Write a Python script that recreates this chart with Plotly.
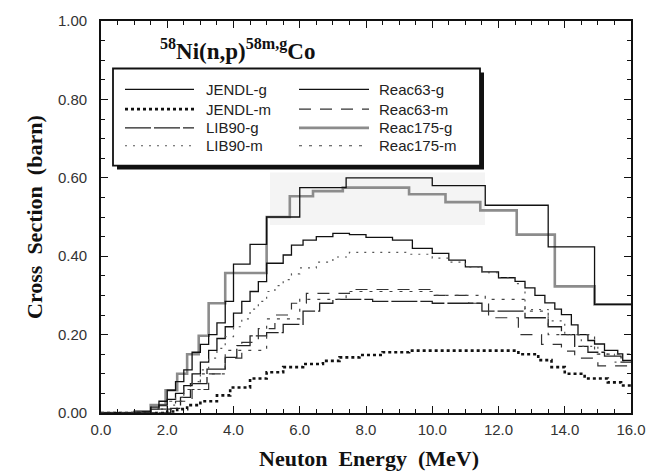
import plotly.graph_objects as go

# ---------------- data (step histograms: bin edges + bin values, barn) ----------------
jendl_g_edges = [0, 1.25, 1.5, 1.75, 2.0, 2.25, 2.5, 2.75, 3.0, 3.25, 3.5, 3.75, 4.0, 4.25, 4.5, 4.75,
                 5.0, 5.5, 5.75, 6.1, 6.5, 7.0, 7.5, 8.0, 8.8, 9.4, 10.0, 10.5, 11.0, 11.5, 12.0, 12.5,
                 12.8, 13.1, 13.4, 13.7, 13.9, 14.2, 14.4, 14.7, 14.9, 15.2, 15.6, 15.75, 16]
jendl_g_vals = [0, 0.003, 0.01, 0.02, 0.035, 0.05, 0.07, 0.1, 0.13, 0.16, 0.19, 0.22, 0.255, 0.285, 0.31,
                0.335, 0.382, 0.403, 0.428, 0.441, 0.45, 0.458, 0.455, 0.448, 0.441, 0.42, 0.407, 0.39,
                0.373, 0.36, 0.345, 0.336, 0.319, 0.3, 0.281, 0.265, 0.251, 0.225, 0.2, 0.185, 0.176,
                0.16, 0.151, 0.134]

jendl_m_edges = [0, 2.0, 2.3, 2.6, 3.0, 3.5, 3.9, 4.5, 5.0, 5.5, 6.1, 6.7, 7.2, 7.8, 8.5, 9.3, 12.6,
                 13.2, 13.6, 14.0, 14.6, 15.3, 15.7, 16]
jendl_m_vals = [0, 0.004, 0.01, 0.02, 0.03, 0.045, 0.065, 0.088, 0.104, 0.117, 0.125, 0.133, 0.142,
                0.148, 0.155, 0.159, 0.15, 0.135, 0.117, 0.1, 0.088, 0.078, 0.07]

lib90_g_edges = [0, 2.1, 2.4, 2.7, 3.2, 3.75, 4.1, 4.5, 5.0, 5.5, 6.1, 6.6, 7.0, 8.2, 10.0, 11.5, 12.8,
                 13.5, 13.9, 14.3, 14.7, 15.2, 15.7, 16]
lib90_g_vals = [0, 0.012, 0.04, 0.075, 0.112, 0.142, 0.172, 0.197, 0.205, 0.226, 0.26, 0.28, 0.29, 0.285,
                0.28, 0.26, 0.243, 0.22, 0.2, 0.17, 0.155, 0.145, 0.13]

lib90_m_edges = [0, 1.75, 2.0, 2.25, 2.5, 2.75, 3.0, 3.25, 3.5, 3.75, 4.0, 4.25, 4.5, 4.75, 5.0, 5.25,
                 5.5, 5.75, 6.0, 6.5, 7.0, 7.5, 9.2, 10.0, 10.5, 11.0, 11.5, 12.0, 12.5, 12.8, 13.5,
                 14.0, 14.5, 15.0, 15.5, 16.0]
lib90_m_vals = [0, 0.01, 0.02, 0.04, 0.06, 0.08, 0.11, 0.14, 0.165, 0.195, 0.22, 0.24, 0.265, 0.285,
                0.31, 0.325, 0.34, 0.355, 0.37, 0.385, 0.398, 0.41, 0.405, 0.395, 0.385, 0.372, 0.358,
                0.345, 0.33, 0.264, 0.235, 0.2, 0.17, 0.15, 0.13]

reac63_g_edges = [0, 1.0, 1.5, 1.75, 2.0, 2.25, 2.5, 2.75, 3.0, 3.25, 3.5, 3.75, 4.0, 4.5, 5.0, 6.0,
                  7.4, 10.0, 11.6, 13.5, 14.9, 16]
reac63_g_vals = [0, 0.005, 0.015, 0.03, 0.058, 0.08, 0.11, 0.155, 0.175, 0.2, 0.23, 0.285, 0.38, 0.43,
                 0.5, 0.575, 0.60, 0.58, 0.53, 0.424, 0.277]

reac63_m_edges = [0, 1.75, 2.25, 2.75, 3.25, 3.75, 4.25, 4.75, 5.25, 5.75, 6.2, 7.5, 10.0, 11.1, 11.7,
                  12.6, 13.3, 13.9, 14.3, 15.0, 16]
reac63_m_vals = [0, 0.01, 0.03, 0.06, 0.1, 0.14, 0.18, 0.215, 0.25, 0.28, 0.305, 0.315, 0.30, 0.28,
                 0.243, 0.2, 0.175, 0.158, 0.14, 0.12]

reac175_g_edges = [0, 1.5, 1.95, 2.3, 2.6, 2.95, 3.25, 3.75, 5.0, 5.7, 6.4, 7.3, 9.3, 10.4, 11.45,
                   12.55, 13.7, 14.9, 16]
reac175_g_vals = [0, 0.02, 0.058, 0.1, 0.15, 0.197, 0.28, 0.357, 0.5, 0.553, 0.566, 0.575, 0.558,
                  0.538, 0.517, 0.455, 0.323, 0.277]

reac175_m_edges = [0, 1.5, 2.0, 2.5, 3.0, 3.75, 5.0, 6.0, 7.4, 10.0, 11.6, 12.8, 13.5, 14.9, 16]
reac175_m_vals = [0, 0.01, 0.03, 0.06, 0.1, 0.16, 0.24, 0.29, 0.31, 0.30, 0.29, 0.26, 0.2, 0.15]

x_tickvals = [0, 2, 4, 6, 8, 10, 12, 14, 16]
x_ticktext = ["0.0", "2.0", "4.0", "6.0", "8.0", "10.0", "12.0", "14.0", "16.0"]
y_tickvals = [0, 0.2, 0.4, 0.6, 0.8, 1.0]
y_ticktext = ["0.00", "0.20", "0.40", "0.60", "0.80", "1.00"]

# ---------------- styles ----------------
series = [
    # name, edges, vals, color, width, dash
    ("Reac175-g", reac175_g_edges, reac175_g_vals, "#8c8c8c", 2.6, "solid"),
    ("JENDL-g", jendl_g_edges, jendl_g_vals, "#111111", 1.3, "solid"),
    ("JENDL-m", jendl_m_edges, jendl_m_vals, "#111111", 2.6, "3px,3px"),
    ("LIB90-g", lib90_g_edges, lib90_g_vals, "#222222", 1.3, "26px,3px"),
    ("LIB90-m", lib90_m_edges, lib90_m_vals, "#555555", 1.2, "2px,6px"),
    ("Reac63-g", reac63_g_edges, reac63_g_vals, "#111111", 1.3, "solid"),
    ("Reac63-m", reac63_m_edges, reac63_m_vals, "#333333", 1.2, "12px,9px"),
    ("Reac175-m", reac175_m_edges, reac175_m_vals, "#444444", 1.2, "3px,7px"),
]
style = {s[0]: s[3:] for s in series}

# plot area in pixels
W, H = 671, 471
L, R, T, B = 101, 40, 17, 58
PW, PH = W - L - R, H - T - B
X0, X1, Y0, Y1 = 0, 16, 0, 1.0


def px2x(px):
    return X0 + (px - L) / PW * (X1 - X0)


def px2y(py):
    return Y0 + (T + PH - py) / PH * (Y1 - Y0)


fig = go.Figure()
for name, edges, vals, color, width, dash in series:
    assert len(edges) == len(vals) + 1, name
    fig.add_trace(go.Scatter(
        x=edges, y=list(vals) + [vals[-1]], mode="lines", line_shape="hv",
        line=dict(color=color, width=width, dash=dash), name=name, showlegend=False,
        hoverinfo="skip"))

shapes = []
# faint scan patch
shapes.append(dict(type="rect", xref="x", yref="y", x0=px2x(270), x1=px2x(485), y0=px2y(223),
                   y1=px2y(170), fillcolor="#f4f4f4", line=dict(width=0), layer="below"))
# legend shadow + box
shapes.append(dict(type="rect", xref="x", yref="y", x0=px2x(117), x1=px2x(484), y0=px2y(167),
                   y1=px2y(69), fillcolor="#111111", line=dict(width=0)))
shapes.append(dict(type="rect", xref="x", yref="y", x0=px2x(113), x1=px2x(480), y0=px2y(163),
                   y1=px2y(65), fillcolor="white", line=dict(color="#111111", width=1.8)))

annotations = []
legend_rows = [86, 106, 125, 143]
col1 = ["JENDL-g", "JENDL-m", "LIB90-g", "LIB90-m"]
col2 = ["Reac63-g", "Reac63-m", "Reac175-g", "Reac175-m"]
for names, lx0, lx1, tx in [(col1, 125, 194, 204), (col2, 299, 369, 377)]:
    for nm, ry in zip(names, legend_rows):
        color, width, dash = style[nm]
        shapes.append(dict(type="line", xref="x", yref="y", x0=px2x(lx0), x1=px2x(lx1),
                           y0=px2y(ry), y1=px2y(ry), line=dict(color=color, width=width, dash=dash)))
        annotations.append(dict(xref="x", yref="y", x=px2x(tx), y=px2y(ry), text=nm, showarrow=False,
                                xanchor="left", yanchor="middle",
                                font=dict(family="Liberation Sans", size=15, color="#222222")))

annotations.append(dict(xref="x", yref="y", x=px2x(158), y=px2y(46),
                        text="<b><sup>58</sup>Ni(n,p)<sup>58m,g</sup>Co</b>", showarrow=False,
                        xanchor="left", yanchor="middle",
                        font=dict(family="Liberation Serif", size=23, color="#111111")))
annotations.append(dict(xref="paper", yref="paper", x=(34 - L) / PW, y=0.5,
                        text="<b>Cross  Section  (barn)</b>",
                        textangle=-90, showarrow=False, xanchor="center", yanchor="middle",
                        font=dict(family="Liberation Serif", size=22, color="#111111")))
annotations.append(dict(xref="paper", yref="paper", x=(369 - L) / PW, y=-(459 - T - PH) / PH,
                        text="<b>Neuton  Energy  (MeV)</b>", showarrow=False, xanchor="center",
                        yanchor="middle", font=dict(family="Liberation Serif", size=22, color="#111111")))

axis_common = dict(showgrid=False, zeroline=False, showline=True, linecolor="#111111", linewidth=1.6,
                   mirror="ticks", ticks="inside", ticklen=7, tickwidth=1.2, tickcolor="#111111",
                   tickfont=dict(family="Liberation Sans", size=15, color="#333333"))

fig.update_layout(
    width=W, height=H, margin=dict(l=L, r=R, t=T, b=B),
    paper_bgcolor="white", plot_bgcolor="white",
    xaxis=dict(range=[X0, X1], tickvals=x_tickvals, ticktext=x_ticktext, ticklabelstandoff=2,
               minor=dict(dtick=0.5, ticks="inside", ticklen=4, tickcolor="#111111"), **axis_common),
    yaxis=dict(range=[Y0, Y1], tickvals=y_tickvals, ticktext=y_ticktext, ticklabelstandoff=9,
               minor=dict(dtick=0.05, ticks="inside", ticklen=4, tickcolor="#111111"), **axis_common),
    shapes=shapes, annotations=annotations, showlegend=False,
)

fig.write_html("out.html")
